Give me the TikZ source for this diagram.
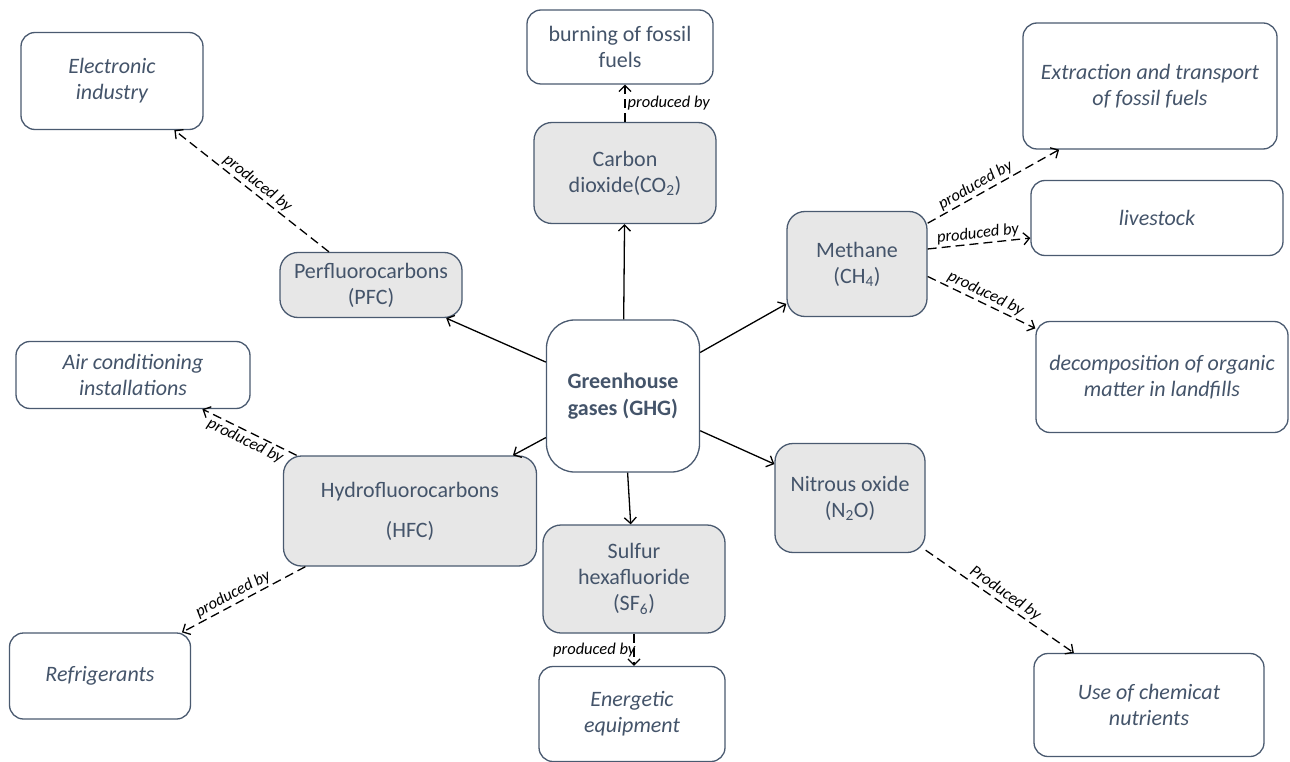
\documentclass[tikz,border=0pt]{standalone}
\usepackage{fontspec}
\setmainfont{Carlito}
\usetikzlibrary{arrows.meta}
\definecolor{txt}{HTML}{44546A}
\definecolor{bord}{HTML}{4A5A70}
\definecolor{gfill}{HTML}{E7E7E7}
\tikzset{
  base/.style={draw=bord, line width=1.3pt, text=txt, align=center, font=\fontsize{22}{26}\selectfont, inner sep=2pt},
  src/.style={base, fill=white, rounded corners=14pt, font=\fontsize{22}{26}\selectfont\itshape},
  gas/.style={base, fill=gfill, rounded corners=18pt},
  hub/.style={base, fill=white, rounded corners=28pt, font=\fontsize{22}{27}\selectfont\bfseries},
  solidarr/.style={draw=black, line width=1.3pt, -{Straight Barb[length=6pt,width=12pt]}},
  prodarr/.style={solidarr, dash pattern=on 9pt off 5pt},
  lab/.style={font=\fontsize{16.5}{18}\selectfont\itshape, text=black, inner sep=2pt}
}
\begin{document}
\begin{tikzpicture}[x=1pt,y=-1pt]
\useasboundingbox[fill=white] (0,0) rectangle (1290,762);
% hub
\node[hub, minimum width=153pt, minimum height=152pt] (ghg) at (623,396) {Greenhouse\\gases (GHG)};
% gases
\node[gas, minimum width=182pt, minimum height=101pt] (co2) at (625,173) {Carbon\\dioxide(CO\textsubscript{2})};
\node[gas, minimum width=182pt, minimum height=65pt] (pfc) at (371,285) {Perfluorocarbons\\(PFC)};
\node[gas, minimum width=140pt, minimum height=105pt] (meth) at (857,264) {Methane\\(CH\textsubscript{4})};
\node[gas, minimum width=253pt, minimum height=110pt, font=\fontsize{22}{40}\selectfont] (hfc) at (410,511) {Hydrofluorocarbons\\(HFC)};
\node[gas, minimum width=182pt, minimum height=108pt] (sf) at (634,579) {Sulfur\\hexafluoride\\(SF\textsubscript{6})};
\node[gas, minimum width=150pt, minimum height=109pt] (nitr) at (850,498) {Nitrous oxide\\(N\textsubscript{2}O)};
% sources
\node[base, rounded corners=14pt, minimum width=186pt, minimum height=74pt] (burn) at (620,47) {burning of fossil\\fuels};
\node[src, minimum width=182pt, minimum height=97pt] (elec) at (112,81) {Electronic\\industry};
\node[src, minimum width=254pt, minimum height=126pt] (extr) at (1150,86) {Extraction and transport\\of fossil fuels};
\node[src, minimum width=252pt, minimum height=75pt] (live) at (1157,218) {livestock};
\node[src, minimum width=252pt, minimum height=111pt] (dec) at (1162,377) {decomposition of organic\\matter in landfills};
\node[src, minimum width=234pt, minimum height=67pt] (air) at (133,375) {Air conditioning\\installations};
\node[src, minimum width=181pt, minimum height=86pt] (refr) at (100,676) {Refrigerants};
\node[src, minimum width=186pt, minimum height=95pt] (ener) at (632,714) {Energetic\\equipment};
\node[src, minimum width=230pt, minimum height=103pt] (use) at (1149,705) {Use of chemicat\\nutrients};
% solid arrows from hub
\draw[solidarr] (ghg) -- (co2);
\draw[solidarr] (ghg) -- (pfc);
\draw[solidarr] (ghg) -- (meth);
\draw[solidarr] (ghg) -- (hfc);
\draw[solidarr] (ghg) -- (sf);
\draw[solidarr] (ghg) -- (nitr);
% produced by
\draw[prodarr] (co2.north) -- (co2.north |- burn.south) node[lab, midway, right] {produced by};
\draw[prodarr] (pfc) -- (elec) node[lab, midway, sloped, above] {produced by};
\draw[prodarr] (meth.30) -- (extr.215) node[lab, pos=0.4, sloped, above] {produced by};
\draw[prodarr] (meth.12) -- (live.189) node[lab, midway, sloped, above] {produced by};
\draw[prodarr] (meth.350) -- (dec.159) node[lab, midway, sloped, above] {produced by};
\draw[prodarr] (hfc) -- (air) node[lab, midway, sloped, below] {produced by};
\draw[prodarr] (hfc) -- (refr) node[lab, pos=0.55, sloped, above] {produced by};
\draw[prodarr] (sf.south) -- (sf.south |- ener.north) node[lab, midway, anchor=east, xshift=4pt] {produced by};
\draw[prodarr] (nitr) -- (use) node[lab, midway, sloped, above] {Produced by};
\end{tikzpicture}
\end{document}
